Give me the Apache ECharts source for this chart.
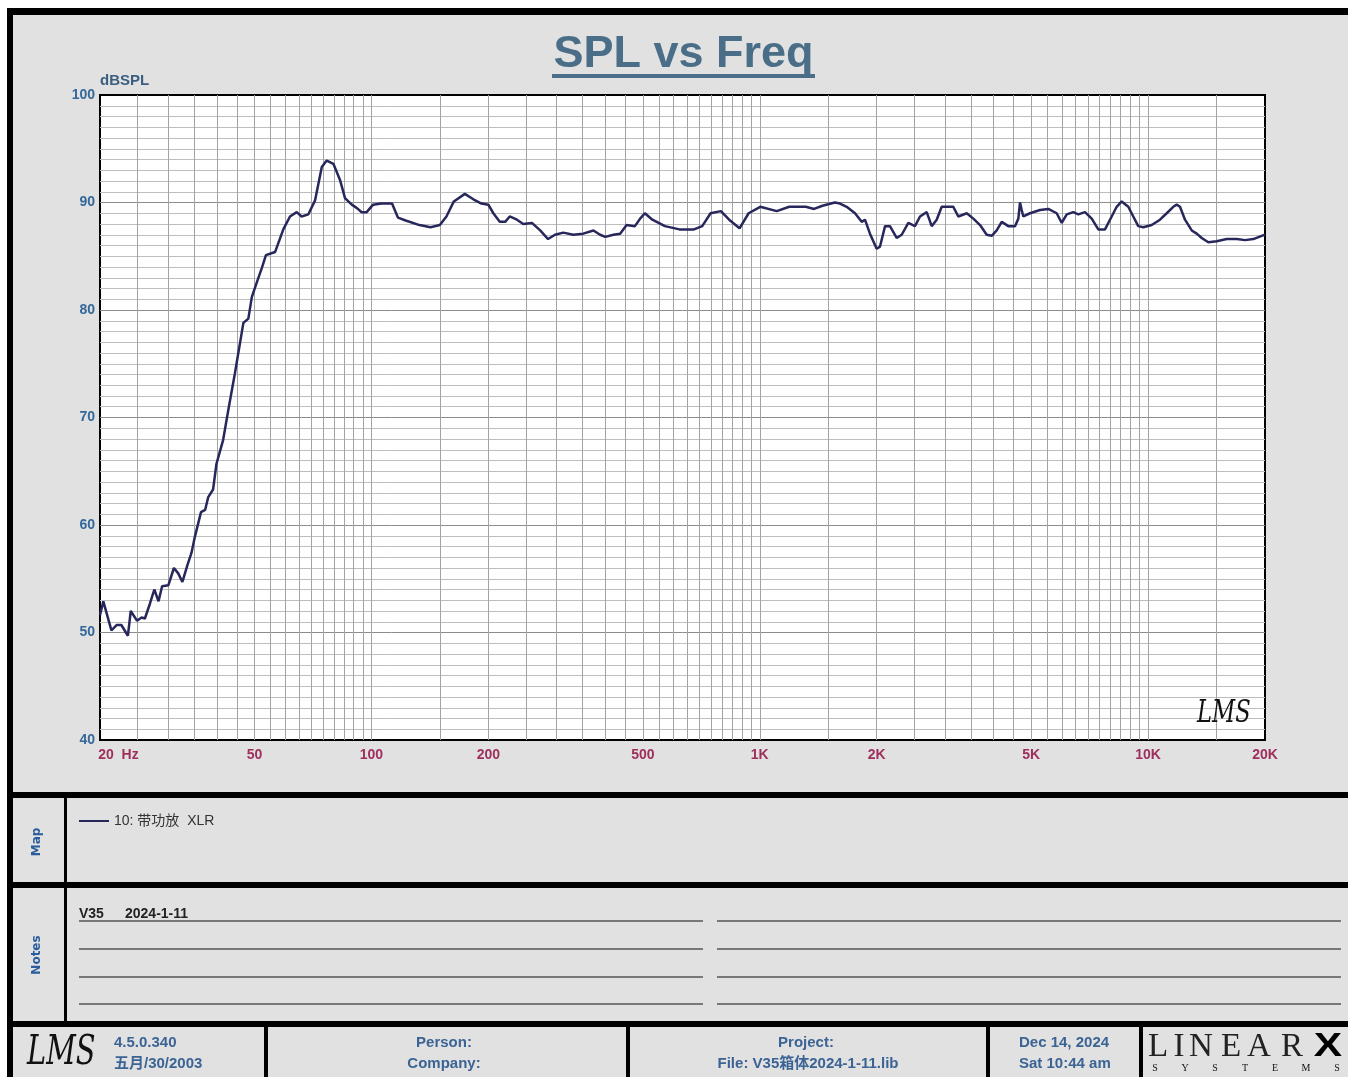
<!DOCTYPE html>
<html><head><meta charset="utf-8">
<script src="https://cdn.jsdelivr.net/npm/echarts@6/dist/echarts.min.js"></script>
<style>html,body{margin:0;padding:0;background:#fff}#c{width:1348px;height:1077px}</style>
</head><body><div id="c"></div>
<script>
// ---- data ----
const freqHz = [20, 20.4, 21.4, 22.1, 22.7, 23.6, 24.0, 24.9, 25.6, 26.1, 26.9, 27.6, 28.3, 28.9, 30.0, 31.0, 31.8, 32.6, 33.6, 34.4,
  35.1, 36.4, 37.3, 38.0, 39.1, 39.9, 41.5, 42.8, 44.5, 46.8, 48.2, 49.2, 50.6, 52.2, 53.5, 56.5, 59.3, 61.7, 64.2, 66.1,
  68.8, 71.6, 74.5, 76.7, 79.8, 83.0, 85.5, 89.0, 91.6, 94.4, 97.2, 101, 106, 113, 117, 123, 133, 142, 150, 156,
  163, 174, 183, 192, 200, 206, 214, 221, 227, 237, 246, 259, 272, 285, 297, 312, 331, 351, 373, 388,
  400, 420, 437, 454, 477, 492, 506, 529, 570, 621, 677, 711, 747, 794, 834, 887, 936, 1003, 1106, 1191,
  1314, 1380, 1450, 1561, 1609, 1674, 1759, 1830, 1866, 1922, 2000, 2040, 2102, 2164, 2252, 2320, 2413, 2510, 2586, 2691,
  2772, 2855, 2941, 3029, 3150, 3245, 3412, 3548, 3692, 3840, 3956, 4075, 4198, 4366, 4543, 4633, 4679, 4726, 4771, 4964,
  5268, 5534, 5816, 5992, 6173, 6418, 6611, 6880, 7158, 7444, 7745, 8058, 8300, 8551, 8892, 9158, 9434, 9718, 10214, 10730,
  11166, 11612, 11848, 12082, 12446, 12952, 13342, 13742, 14290, 15018, 15940, 16912, 17766, 18662, 19612, 20000];
const splDb = [51.6, 52.9, 50.2, 50.7, 50.7, 49.7, 52.0, 51.1, 51.4, 51.3, 52.7, 54.0, 52.9, 54.3, 54.4, 56.0, 55.5, 54.7, 56.3, 57.4,
  58.9, 61.2, 61.4, 62.6, 63.3, 65.7, 67.9, 70.7, 74.1, 78.8, 79.2, 81.2, 82.5, 83.9, 85.1, 85.4, 87.5, 88.7, 89.1, 88.7,
  88.9, 90.2, 93.3, 93.9, 93.6, 92.1, 90.4, 89.8, 89.5, 89.1, 89.1, 89.8, 89.9, 89.9, 88.6, 88.3, 87.9, 87.7, 87.9, 88.7,
  90.1, 90.8, 90.3, 89.9, 89.8, 89.0, 88.2, 88.2, 88.7, 88.4, 88.0, 88.1, 87.4, 86.6, 87.0, 87.2, 87.0, 87.1, 87.4, 87.0,
  86.8, 87.0, 87.1, 87.9, 87.8, 88.5, 89.0, 88.4, 87.8, 87.5, 87.5, 87.8, 89.0, 89.2, 88.4, 87.6, 89.0, 89.6, 89.2, 89.6,
  89.6, 89.4, 89.7, 90.0, 89.9, 89.6, 89.0, 88.2, 88.4, 87.1, 85.7, 85.9, 87.8, 87.8, 86.7, 87.0, 88.1, 87.8, 88.7, 89.1,
  87.8, 88.4, 89.6, 89.6, 89.6, 88.7, 89.0, 88.5, 87.9, 87.0, 86.9, 87.4, 88.2, 87.8, 87.8, 88.5, 90.0, 89.3, 88.7, 89.0,
  89.3, 89.4, 89.0, 88.1, 88.9, 89.1, 88.9, 89.1, 88.5, 87.5, 87.5, 88.7, 89.6, 90.1, 89.6, 88.7, 87.8, 87.7, 87.9, 88.4,
  89.0, 89.6, 89.8, 89.6, 88.4, 87.4, 87.1, 86.7, 86.3, 86.4, 86.6, 86.6, 86.5, 86.6, 86.9, 87.0];
const xTickHz = [20, 50, 100, 200, 500, 1000, 2000, 5000, 10000, 20000];
const xTickLabels = ['20  Hz', '50', '100', '200', '500', '1K', '2K', '5K', '10K', '20K'];
const gridHz = [25, 30, 35, 40, 45, 50, 55, 60, 65, 70, 75, 80, 85, 90, 95, 100,
  150, 200, 250, 300, 350, 400, 450, 500, 550, 600, 650, 700, 750, 800, 850, 900, 950, 1000,
  1500, 2000, 2500, 3000, 3500, 4000, 4500, 5000, 5500, 6000, 6500, 7000, 7500, 8000, 8500, 9000, 9500, 10000, 15000];
const yMin = 40, yMax = 100, yStep = 10;
const seriesName = '10: 带功放  XLR';
const titleText = 'SPL vs Freq';
const yUnit = 'dBSPL';
const noteLeft = 'V35', noteRight = '2024-1-11';
const footerVersion = ['4.5.0.340', '五月/30/2003'];
const footerPerson = ['Person:', 'Company:'];
const footerProject = ['Project:', 'File: V35箱体2024-1-11.lib'];
const footerDate = ['Dec 14, 2024', 'Sat 10:44 am'];
const brand = ['L', 'I', 'N', 'E', 'A', 'R'];
const brandSub = ['S', 'Y', 'S', 'T', 'E', 'M', 'S'];

// ---- drawing ----
const SANS = '"Liberation Sans", Arial, "Noto Sans CJK SC", sans-serif';
const chart = echarts.init(document.getElementById('c'), null, {renderer: 'canvas'});

function rect(x, y, w, h, fill, z) {
  return {type: 'rect', shape: {x: x, y: y, width: w, height: h}, style: {fill: fill}, z: z == null ? 50 : z, silent: true};
}
function hline(x1, x2, y, stroke, lw) {
  return {type: 'line', shape: {x1: x1, y1: y, x2: x2, y2: y}, style: {stroke: stroke, lineWidth: lw}, z: 50, silent: true};
}
function txt(text, x, y, font, fill, align, rot, sx, sy) {
  return {type: 'text', x: x, y: y, rotation: rot || 0, scaleX: sx || 1, scaleY: sy || 1, z: 60, silent: true,
    style: {text: text, x: 0, y: 0, font: font, fill: fill, align: align || 'left', verticalAlign: 'middle',
      textAlign: align || 'left', textVerticalAlign: 'middle'}};
}

const blue = '#3b6394';
const g = [];
// white outer margin
g.push(rect(0, 0, 1348, 8, '#ffffff', 40));
g.push(rect(0, 0, 7, 1077, '#ffffff', 40));
// frame and section borders
g.push(rect(7, 8, 1341, 7, '#000', 50));
g.push(rect(7, 8, 6, 1069, '#000', 50));
g.push(rect(7, 792, 1341, 6, '#000', 50));
g.push(rect(7, 882, 1341, 6, '#000', 50));
g.push(rect(7, 1021, 1341, 6, '#000', 50));
g.push(rect(64, 798, 3, 223, '#000', 50));
[264, 626, 986, 1139].forEach(function (x) { g.push(rect(x, 1027, 4, 50, '#000', 50)); });
// title
g.push(txt(titleText, 683.5, 54.5, 'bold 45px ' + SANS, '#4b6e88', 'center'));
g.push(rect(552, 74, 263, 4, '#4b6e88', 60));
g.push(txt(yUnit, 100, 81, 'bold 15px ' + SANS, '#3b5f80', 'left'));
// plot watermark
g.push(txt('LMS', 1197, 714, 'italic 26px "DejaVu Serif"', '#111', 'left', 0, 0.87, 1.2));
// section labels
g.push(txt('Map', 37, 842, 'bold 12px "DejaVu Sans"', '#2b5c9c', 'center', Math.PI / 2));
g.push(txt('Notes', 37, 955, 'bold 12px "DejaVu Sans"', '#2b5c9c', 'center', Math.PI / 2));
// notes
[921, 949, 977, 1004].forEach(function (y) {
  g.push(hline(79, 703, y, '#555', 1.5));
  g.push(hline(717, 1341, y, '#555', 1.5));
});
g.push(txt(noteLeft, 79, 914, 'bold 14px ' + SANS, '#222', 'left'));
g.push(txt(noteRight, 125, 914, 'bold 14px ' + SANS, '#222', 'left'));
// footer
g.push(txt('LMS', 27, 1053, 'italic 34px "DejaVu Serif"', '#111', 'left', 0, 0.85, 1.2));
g.push(txt(footerVersion[0], 114, 1043, 'bold 15px ' + SANS, blue, 'left'));
g.push(txt(footerVersion[1], 114, 1064, 'bold 15px ' + SANS, blue, 'left'));
g.push(txt(footerPerson[0], 444, 1043, 'bold 15px ' + SANS, blue, 'center'));
g.push(txt(footerPerson[1], 444, 1064, 'bold 15px ' + SANS, blue, 'center'));
g.push(txt(footerProject[0], 806, 1043, 'bold 15px ' + SANS, blue, 'center'));
g.push(txt(footerProject[1], 808, 1064, 'bold 15px ' + SANS, blue, 'center'));
g.push(txt(footerDate[0], 1019, 1043, 'bold 15px ' + SANS, blue, 'left'));
g.push(txt(footerDate[1], 1019, 1064, 'bold 15px ' + SANS, blue, 'left'));
const brandX = [1158, 1179, 1201, 1231, 1259, 1292];
brand.forEach(function (c, i) { g.push(txt(c, brandX[i], 1047, '33px "Liberation Serif"', '#222', 'center')); });
g.push(txt('X', 1328, 1047, 'bold 34px ' + SANS, '#000', 'center', 0, 1.25, 1));
const subX = [1155, 1185, 1215, 1245, 1275, 1306, 1337];
brandSub.forEach(function (c, i) { g.push(txt(c, subX[i], 1068, '10px "Liberation Serif"', '#111', 'center')); });

function xLabel(v) {
  let best = 0, bd = Infinity;
  xTickHz.forEach(function (t, i) { const d = Math.abs(Math.log10(v) - Math.log10(t)); if (d < bd) { bd = d; best = i; } });
  return best === 0 ? '{first|' + xTickLabels[0] + '}' : xTickLabels[best];
}

const option = {
  backgroundColor: '#e1e1e1',
  animation: false,
  grid: {left: 100, top: 95, width: 1165, height: 645, show: true, backgroundColor: '#ffffff', borderColor: '#000', borderWidth: 2, containLabel: false},
  legend: {
    data: [{name: seriesName, icon: 'rect'}], left: 79, top: 814, padding: 0, itemWidth: 30, itemHeight: 2, itemGap: 10,
    itemStyle: {color: '#27275c'},
    textStyle: {fontSize: 14, color: '#333', fontFamily: SANS}
  },
  xAxis: {
    type: 'log', logBase: 10, min: 20, max: 20000,
    axisLine: {show: false}, axisTick: {show: false}, splitLine: {show: false},
    axisLabel: {
      customValues: xTickHz, formatter: xLabel, margin: 8,
      color: '#9e2f5c', fontWeight: 'bold', fontSize: 14, fontFamily: SANS,
      rich: {first: {padding: [0, 0, 0, 37], color: '#9e2f5c', fontWeight: 'bold', fontSize: 14, fontFamily: SANS}}
    }
  },
  yAxis: {
    type: 'value', min: yMin, max: yMax, interval: yStep,
    axisLine: {show: false}, axisTick: {show: false},
    axisLabel: {color: '#34689a', fontWeight: 'bold', fontSize: 14, fontFamily: SANS, margin: 5},
    splitLine: {show: true, showMinLine: false, showMaxLine: false, lineStyle: {color: '#8c8c8c', width: 1}},
    minorTick: {show: false, splitNumber: 10},
    minorSplitLine: {show: true, lineStyle: {color: '#bdbdbd', width: 1}}
  },
  graphic: {elements: g},
  series: [
    {
      name: 'grid', type: 'line', data: [], z: 1, silent: true,
      markLine: {
        silent: true, symbol: ['none', 'none'], animation: false, label: {show: false},
        lineStyle: {color: '#a3a3a3', width: 1, type: 'solid'},
        emphasis: {disabled: true},
        data: gridHz.map(function (f) { return {xAxis: f}; })
      }
    },
    {
      name: seriesName, type: 'line', z: 10, symbol: 'none', showSymbol: false, smooth: false,
      lineStyle: {color: '#27275c', width: 2.5}, itemStyle: {color: '#27275c'},
      data: freqHz.map(function (f, i) { return [f, splDb[i]]; })
    }
  ]
};
chart.setOption(option);
</script></body></html>
